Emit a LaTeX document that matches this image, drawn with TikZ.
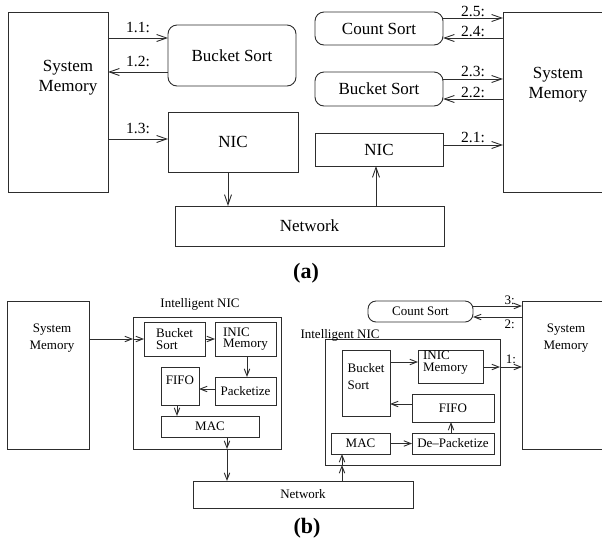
\documentclass[tikz,border=0pt]{standalone}
\usepackage{fontspec}
\setmainfont{Liberation Serif}
\usetikzlibrary{arrows.meta}
\definecolor{ink}{RGB}{45,45,45}

\tikzset{
  x=1pt, y=-1pt,
  box/.style={draw=ink, line width=0.9pt, inner sep=0pt, outer sep=0pt},
  rbox/.style={box, rounded corners=9pt},
  txtA/.style={font=\fontsize{17}{20}\selectfont},
  lblA/.style={font=\fontsize{15.5}{17}\selectfont, inner sep=0pt},
  txtB/.style={font=\fontsize{13}{11.5}\selectfont},
  wideB/.style={font=\fontsize{13}{16.5}\selectfont},
  lblB/.style={font=\fontsize{13}{14}\selectfont, inner sep=0pt},
  capt/.style={font=\bfseries\fontsize{22}{24}\selectfont, inner sep=0pt},
  arrA/.style={draw=ink, line width=0.9pt, -{Straight Barb[length=10pt,width=7pt]}},
  arrB/.style={draw=ink, line width=0.9pt, -{Straight Barb[length=7pt,width=5.5pt]}},
}

\begin{document}
\begin{tikzpicture}
\useasboundingbox (0,0) rectangle (602,550);
\begin{scope}
\clip (0,0) rectangle (602,550);

% ---------- (a) host-based sorting ----------
\node[box, minimum width=100pt, minimum height=180pt,
      label={[txtA, align=center, xshift=10pt, yshift=24pt]center:System\\Memory}] (smA) at (58,102) {};
\node[rbox, txtA, minimum width=128pt, minimum height=61pt] (bsA) at (232,55.5) {Bucket Sort};
\node[box, txtA, minimum width=130pt, minimum height=60pt] (nicA) at (233,142) {NIC};
\node[box, txtA, minimum width=269pt, minimum height=40pt] (netA) at (309.5,226) {Network};
\node[rbox, txtA, minimum width=128pt, minimum height=33pt] (csA) at (379,28.5) {Count Sort};
\node[rbox, txtA, minimum width=128pt, minimum height=34pt] (bsA2) at (379,89) {Bucket Sort};
\node[box, txtA, minimum width=128pt, minimum height=33pt] (nicA2) at (379,149.5) {NIC};
\node[box, minimum width=101pt, minimum height=180pt,
      label={[txtA, align=center, xshift=4.5pt, yshift=17pt]center:System\\Memory}] (smA2) at (553.5,102) {};

\draw[arrA] (smA.east |- 0,38) -- node[lblA, above=5pt]{1.1:} (bsA.west |- 0,38);
\draw[arrA] (bsA.west |- 0,72) -- node[lblA, above=5pt]{1.2:} (smA.east |- 0,72);
\draw[arrA] (smA.east |- 0,139) -- node[lblA, above=5pt]{1.3:} (nicA.west |- 0,139);
\draw[arrA] (nicA.south -| 228,0) -- (netA.north -| 228,0);

\draw[arrA] (csA.east |- 0,18) -- node[lblA, above=1pt]{2.5:} (smA2.west |- 0,18);
\draw[arrA] (smA2.west |- 0,38) -- node[lblA, above=1pt]{2.4:} (csA.east |- 0,38);
\draw[arrA] (bsA2.east |- 0,79) -- node[lblA, above=2pt]{2.3:} (smA2.west |- 0,79);
\draw[arrA] (smA2.west |- 0,99) -- node[lblA, above=1pt]{2.2:} (bsA2.east |- 0,99);
\draw[arrA] (nicA2.east |- 0,145) -- node[lblA, above=2pt]{2.1:} (smA2.west |- 0,145);
\draw[arrA] (netA.north -| 376,0) -- (nicA2.south -| 376,0);

\node[capt] (capA) at (306,273) {(a)};

% ---------- (b) intelligent NIC ----------
\node[box, minimum width=82pt, minimum height=148pt,
      label={[wideB, align=center, xshift=4pt, yshift=37pt]center:System\\Memory}] (smB) at (48,375) {};
\node[box, minimum width=148pt, minimum height=132pt,
      label={[txtB, xshift=-7pt, yshift=3pt]above:Intelligent NIC}] (inicB) at (207,383) {};
\node[box, txtB, align=left, minimum width=61pt, minimum height=34pt] (bsB) at (174.5,339) {Bucket\\Sort};
\node[box, txtB, align=left, minimum width=61pt, minimum height=34pt] (memB) at (245.5,339) {INIC\\Memory};
\node[box, txtB, minimum width=61pt, minimum height=28pt] (pktB) at (245.5,391) {Packetize};
\node[box, minimum width=38pt, minimum height=38pt,
      label={[txtB, yshift=6pt]center:FIFO}] (fifoB) at (180,386) {};
\node[box, txtB, minimum width=98pt, minimum height=21pt] (macB) at (210,426.5) {MAC};
\node[box, txtB, minimum width=220pt, minimum height=27pt] (netB) at (303,494.5) {Network};

\draw[arrB] (smB.east |- 0,339) -- (inicB.west |- 0,339);
\draw[arrB] (inicB.west |- 0,339) -- (bsB.west);
\draw[arrB] (bsB.east) -- (memB.west);
\draw[arrB] (memB.south -| 247,0) -- (pktB.north -| 247,0);
\draw[arrB] (pktB.west |- 0,389) -- (fifoB.east |- 0,389);
\draw[arrB] (fifoB.south -| 177,0) -- (macB.north -| 177,0);
\draw[arrB] (macB.south -| 227,0) -- (inicB.south -| 227,0);
\draw[arrB] (inicB.south -| 227,0) -- (netB.north -| 227,0);

\node[rbox, txtB, rounded corners=8pt, minimum width=105pt, minimum height=21pt] (csB) at (420.5,311.5) {Count Sort};
\node[box, minimum width=82pt, minimum height=148pt,
      label={[wideB, align=center, xshift=3pt, yshift=37pt]center:System\\Memory}] (smB2) at (563,375) {};
\node[box, minimum width=175pt, minimum height=126pt,
      label={[txtB, anchor=base west, xshift=-28pt, yshift=1pt]north west:Intelligent NIC}] (inicB2) at (412.5,402) {};
\node[box, minimum width=48pt, minimum height=66pt,
      label={[wideB, align=left, yshift=6.5pt]center:Bucket\\Sort}] (bsB2) at (366,383) {};
\node[box, minimum width=65pt, minimum height=33pt,
      label={[txtB, align=left, xshift=-5pt, yshift=4pt]center:INIC\\Memory}] (memB2) at (450.5,366.5) {};
\node[box, txtB, minimum width=82pt, minimum height=28pt] (fifoB2) at (453,408) {FIFO};
\node[box, txtB, minimum width=82pt, minimum height=21pt] (dpkB2) at (453,443.5) {De--Packetize};
\node[box, txtB, minimum width=59pt, minimum height=21pt] (macB2) at (360.5,443.5) {MAC};

\draw[arrB] (csB.east |- 0,306) -- node[lblB, above=1pt, pos=.75]{3:} (smB2.west |- 0,306);
\draw[arrB] (smB2.west |- 0,317) -- node[lblB, below=2pt, pos=.25]{2:} (csB.east |- 0,317);
\draw[arrB] (bsB2.east |- 0,362) -- (memB2.west |- 0,362);
\draw[arrB] (memB2.east |- 0,367) -- (inicB2.east |- 0,367);
\draw[arrB] (inicB2.east |- 0,367) -- node[lblB, above=3pt]{1:} (smB2.west |- 0,367);
\draw[arrB] (fifoB2.west |- 0,404) -- (bsB2.east |- 0,404);
\draw[arrB] (dpkB2.north -| 451,0) -- (fifoB2.south -| 451,0);
\draw[arrB] (macB2.east) -- (dpkB2.west);
\draw[arrB] (netB.north -| 342,0) -- (inicB2.south -| 342,0);
\draw[arrB] (inicB2.south -| 342,0) -- (macB2.south -| 342,0);

\node[capt] (capB) at (307,528) {(b)};
\end{scope}
\end{tikzpicture}
\end{document}
